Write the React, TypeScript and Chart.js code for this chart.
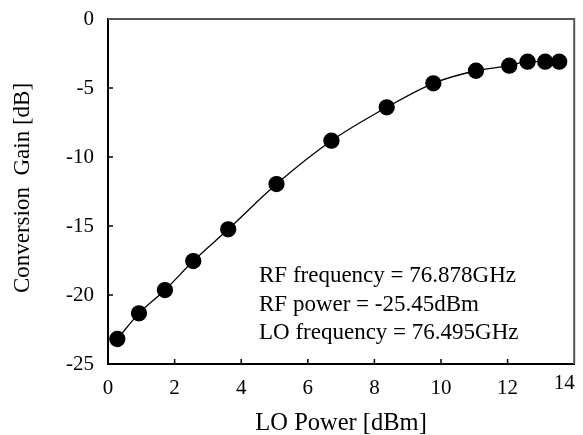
import React, { useEffect, useRef } from "react";
import { Chart, registerables } from "chart.js";

Chart.register(...registerables);

const loPower = [0.28, 0.93, 1.71, 2.56, 3.61, 5.06, 6.71, 8.37, 9.77, 11.05, 12.05, 12.6, 13.13, 13.55];
const conversionGain = [-23.19, -21.33, -19.64, -17.54, -15.24, -11.96, -8.82, -6.4, -4.66, -3.75, -3.38, -3.09, -3.09, -3.09];
const xTickValues = [0, 2, 4, 6, 8, 10, 12, 14];
const yTickValues = [0, -5, -10, -15, -20, -25];
const annotationLines = ["RF frequency = 76.878GHz", "RF power = -25.45dBm", "LO frequency = 76.495GHz"];
const xTitle = "LO Power [dBm]";
const yTitle = "Conversion  Gain [dB]";

const FONT = "'Liberation Serif', 'DejaVu Serif', serif";
const X_MAX = 14;

const decorPlugin = {
  id: "decor",
  afterDraw(chart: any) {
    const { ctx, chartArea } = chart;
    const xs = chart.scales.x;
    const ys = chart.scales.y;
    ctx.save();
    // top and right frame
    ctx.strokeStyle = "#555555";
    ctx.lineWidth = 2;
    ctx.beginPath();
    ctx.moveTo(chartArea.left, chartArea.top);
    ctx.lineTo(chartArea.right, chartArea.top);
    ctx.lineTo(chartArea.right, chartArea.bottom);
    ctx.stroke();
    // inward ticks
    ctx.strokeStyle = "#000000";
    ctx.lineWidth = 1.5;
    ctx.beginPath();
    xTickValues.forEach((v) => {
      if (v === 0 || v === X_MAX) return;
      const px = xs.getPixelForValue(v);
      ctx.moveTo(px, chartArea.bottom);
      ctx.lineTo(px, chartArea.bottom - 5);
    });
    yTickValues.forEach((v) => {
      if (v === 0 || v === -25) return;
      const py = ys.getPixelForValue(v);
      ctx.moveTo(chartArea.left, py);
      ctx.lineTo(chartArea.left + 5, py);
    });
    ctx.stroke();
    ctx.fillStyle = "#000000";
    // last x tick label, pulled inside the page
    ctx.font = `21px ${FONT}`;
    ctx.textAlign = "center";
    ctx.textBaseline = "middle";
    ctx.fillText(String(X_MAX), xs.getPixelForValue(X_MAX) - 10, chartArea.bottom + 19);
    // annotation
    ctx.font = `23px ${FONT}`;
    ctx.textAlign = "left";
    ctx.textBaseline = "alphabetic";
    annotationLines.forEach((t, i) => {
      ctx.fillText(t, chartArea.left + 151, chartArea.top + 263 + i * 28.5);
    });
    // axis titles
    ctx.font = `24.5px ${FONT}`;
    ctx.textAlign = "center";
    ctx.textBaseline = "alphabetic";
    ctx.fillText(xTitle, (chartArea.left + chartArea.right) / 2, 430);
    ctx.font = `23px ${FONT}`;
    ctx.textBaseline = "middle";
    ctx.translate(23, 188);
    ctx.rotate(-Math.PI / 2);
    ctx.fillText(yTitle, 0, 0);
    ctx.restore();
  },
};

export default function App() {
  const ref = useRef<HTMLCanvasElement | null>(null);
  useEffect(() => {
    if (!ref.current) return;
    const chart = new Chart(ref.current, {
      type: "line",
      data: {
        datasets: [
          {
            data: loPower.map((x, i) => ({ x, y: conversionGain[i] })),
            borderColor: "#000000",
            borderWidth: 1.3,
            backgroundColor: "#000000",
            pointBackgroundColor: "#000000",
            pointBorderColor: "#000000",
            pointRadius: 7.5,
            cubicInterpolationMode: "monotone",
          },
        ],
      },
      options: {
        responsive: false,
        animation: false,
        layout: { padding: { top: 19, right: 8, left: 0, bottom: 0 } },
        plugins: { legend: { display: false }, tooltip: { enabled: false } },
        scales: {
          x: {
            type: "linear",
            min: 0,
            max: X_MAX,
            afterFit: (s: any) => {
              s.height = 71;
              s.paddingRight = 0;
              s.paddingLeft = 0;
            },
            afterBuildTicks: (s: any) => {
              s.ticks = xTickValues.map((v) => ({ value: v }));
            },
            grid: { display: false, drawTicks: false },
            border: { display: true, color: "#000000", width: 2 },
            ticks: {
              color: "#000000",
              font: { family: FONT, size: 21 },
              padding: 12,
              maxRotation: 0,
              callback: (v: any) => (v === X_MAX ? "" : String(v)),
            },
          },
          y: {
            type: "linear",
            min: -25,
            max: 0,
            afterFit: (s: any) => {
              s.width = 108;
              s.paddingTop = 0;
              s.paddingBottom = 0;
            },
            afterBuildTicks: (s: any) => {
              s.ticks = yTickValues.map((v) => ({ value: v }));
            },
            grid: { display: false, drawTicks: false },
            border: { display: true, color: "#000000", width: 2 },
            ticks: { color: "#000000", font: { family: FONT, size: 21 }, padding: 14 },
          },
        },
      },
      plugins: [decorPlugin],
    } as any);
    return () => chart.destroy();
  }, []);
  return (
    <div style={{ position: "fixed", left: 0, top: 0, width: 583, height: 435, background: "#fff" }}>
      <canvas ref={ref} width={583} height={435} />
    </div>
  );
}
